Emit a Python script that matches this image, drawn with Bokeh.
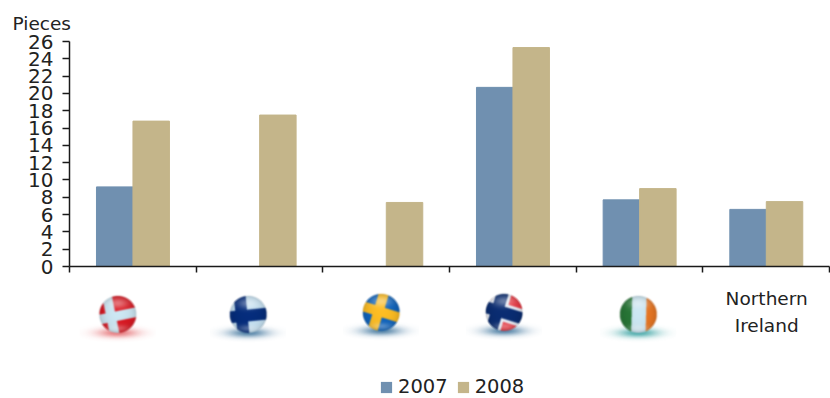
from bokeh.core.properties import value
from bokeh.embed import file_html
from bokeh.resources import INLINE
from bokeh.layouts import column
from bokeh.models import FixedTicker, Legend, LegendItem, Range1d, Title
from bokeh.plotting import figure
import numpy as np

FONT = "DejaVu Sans"
TEXT_COLOR = "#222222"
INK = "#1a1a1a"

countries = ["Denmark", "Finland", "Sweden", "Norway", "Ireland", "Northern Ireland"]
pieces_2007 = [9.2, None, None, 20.7, 7.7, 6.6]
pieces_2008 = [16.8, 17.5, 7.4, 25.3, 9.0, 7.5]
y_ticks = list(range(0, 28, 2))
series_labels = ["2007", "2008"]
series_colors = ["#7090B0", "#C4B58A"]

# Where each national badge sits along the category axis
badge_x = [0.38, 1.41, 2.46, 3.43, 4.49]
badge_y = [84, 84, 86, 86, 84]

BAR_W = 0.288
GROUP_GAP = 0.213
STRIP_H = 113

p = figure(width=830, height=398 - STRIP_H, x_range=Range1d(0, 6), y_range=Range1d(0, 26),
           output_backend="svg", toolbar_location=None,
           min_border_left=69, min_border_right=1, min_border_top=41, min_border_bottom=19)
p.outline_line_color = None
p.grid.visible = False
p.background_fill_color = "white"
p.border_fill_color = "white"

p.title = Title(text="Pieces", align="left", offset=-57, standoff=16, text_font=FONT,
                text_font_size="18.5px", text_font_style="normal", text_color=TEXT_COLOR,
                text_line_height=1.0)

xs_07 = [i + GROUP_GAP + BAR_W / 2 for i, v in enumerate(pieces_2007) if v is not None]
tops_07 = [v for v in pieces_2007 if v is not None]
xs_08 = [i + GROUP_GAP + BAR_W * 1.5 for i in range(len(pieces_2008))]
p.vbar(x=xs_07, top=tops_07, width=BAR_W, color=series_colors[0])
p.vbar(x=xs_08, top=pieces_2008, width=BAR_W, color=series_colors[1])

# The category boundaries carry ticks only, so they go on the unlabelled minor ticks
xa = p.xaxis[0]
xa.ticker = FixedTicker(ticks=[], minor_ticks=list(range(7)))
xa.axis_line_color = INK
xa.axis_line_width = 1.5
xa.minor_tick_line_color = INK
xa.minor_tick_line_width = 1.5
xa.minor_tick_in = 0
xa.minor_tick_out = 6

ya = p.yaxis[0]
ya.ticker = FixedTicker(ticks=y_ticks)
ya.axis_line_color = INK
ya.axis_line_width = 1.5
ya.major_tick_line_color = INK
ya.major_tick_line_width = 1.5
ya.major_tick_in = 0
ya.major_tick_out = 7
ya.minor_tick_out = 0
ya.minor_tick_in = 0
ya.major_label_standoff = 9
ya.major_label_text_font = FONT
ya.major_label_text_font_size = "20px"
ya.major_label_text_color = TEXT_COLOR

# Lower strip: badges, the one text category and the legend
strip = figure(width=830, height=STRIP_H, x_range=p.x_range, y_range=Range1d(0, STRIP_H),
               output_backend="svg", toolbar_location=None,
               min_border_left=69, min_border_right=1, min_border_top=0, min_border_bottom=0,
               x_axis_location=None, y_axis_location=None)
strip.outline_line_color = None
strip.grid.visible = False
strip.border_fill_color = "white"


def blur(a, n=2):
    for _ in range(n):
        a = (a + np.roll(a, 1, 0) + np.roll(a, -1, 0) + np.roll(a, 1, 1) + np.roll(a, -1, 1)) / 5
    return a


def cross(u, v, cx, cy, half):
    return (np.abs(u - cx) < half) | (np.abs(v - cy) < half)


def badge(kind, shadow, size=(76, 64), radius=18.5):
    ss = 4
    w, h = size[0] * ss, size[1] * ss
    yy, xx = np.mgrid[0:h, 0:w]
    cx, cy = w / 2, h * 0.60
    r = radius * ss
    nx = (xx - cx) / r
    ny = (yy - cy) / r  # image rows run upward on this scale
    d = nx ** 2 + ny ** 2
    inside = d < 1
    nz = np.sqrt(np.clip(1 - d, 0, 1))
    ang = {"dk": -0.2, "fi": -0.1, "se": 0.3, "no": 0.3, "ie": 0.03}[kind]
    u = nx * np.cos(ang) - ny * np.sin(ang)
    v = nx * np.sin(ang) + ny * np.cos(ang)

    rgb = np.zeros((h, w, 3), float)
    pale = np.array([205, 232, 244.0])
    if kind == "dk":
        rgb[:] = [220, 25, 35]
        rgb[cross(u, v, -0.38, -0.08, 0.26)] = pale
    elif kind == "fi":
        rgb[:] = [200, 228, 245]
        rgb[cross(u, v, -0.36, -0.06, 0.32)] = [5, 45, 125]
    elif kind == "se":
        rgb[:] = [15, 100, 190]
        rgb[cross(u, v, -0.16, 0.02, 0.27)] = [255, 190, 35]
    elif kind == "no":
        rgb[:] = [235, 55, 65]
        rgb[cross(u, v, -0.38, -0.02, 0.48)] = [235, 240, 248]
        rgb[cross(u, v, -0.38, -0.02, 0.32)] = [10, 45, 115]
    else:
        rgb[:] = pale
        rgb[u < -0.36] = [40, 120, 55]
        rgb[u > 0.42] = [235, 120, 35]

    # Glass shading: darker rim, glossy cap on top, soft glow near the bottom
    shade = 0.68 + 0.32 * nz ** 0.5
    rgb *= shade[..., None]
    cap = np.exp(-((nx / 0.55) ** 2 + ((ny - 0.6) / 0.28) ** 2)) * 0.4
    glow = np.exp(-((nx / 0.55) ** 2 + ((ny + 0.75) / 0.18) ** 2)) * 0.3
    gloss = np.clip(cap + glow, 0, 1)[..., None]
    rgb = rgb * (1 - gloss) + 255 * gloss

    alpha = inside.astype(float)
    sh_d = (nx / 1.35) ** 2 + ((ny + 1.0) / 0.30) ** 2
    sh = np.clip(np.exp(-sh_d * 1.6) * 0.8, 0, 1) * (1 - alpha)
    out_rgb = rgb * alpha[..., None] + np.array(shadow, float) * sh[..., None]
    out_a = alpha + sh
    safe = np.maximum(out_a, 1e-4)[..., None]
    out_rgb = out_rgb / safe

    pre = np.dstack([out_rgb * out_a[..., None], out_a])
    pre = blur(pre, 3)
    pre = pre[: h - h % ss, : w - w % ss].reshape(h // ss, ss, w // ss, ss, 4).mean(axis=(1, 3))
    pre = blur(pre, 1)
    a = pre[..., 3]
    col = pre[..., :3] / np.maximum(a, 1e-4)[..., None]
    img = np.zeros(a.shape, dtype=np.uint32)
    view = img.view(np.uint8).reshape(a.shape + (4,))
    view[..., :3] = np.clip(col, 0, 255).astype(np.uint8)
    view[..., 3] = np.clip(a * 255, 0, 255).astype(np.uint8)
    return img


kinds = ["dk", "fi", "se", "no", "ie"]
shadows = [(225, 90, 95), (40, 100, 145), (40, 100, 145), (40, 100, 145), (30, 150, 150)]
px_per_x = 760 / 6
for kind, sh, bx, by in zip(kinds, shadows, badge_x, badge_y):
    img = badge(kind, sh)
    h, w = img.shape
    strip.image_rgba(image=[img], x=bx - (w / 2) / px_per_x, y=by - h * 0.6,
                     dw=w / px_per_x, dh=h)

strip.text(x=[5.504, 5.504], y=[100, 73], text=["Northern", "Ireland"],
           text_font=value(FONT), text_font_size="18.5px", text_color=TEXT_COLOR,
           text_align="center", text_baseline="middle")

# Legend keys only need a renderer for their colour; its one bar has no area
swatches = [strip.vbar(x=[0], bottom=[0], top=[0], width=0, fill_color=c, line_color=None)
            for c in series_colors]
legend = Legend(items=[LegendItem(label=lab, renderers=[r]) for lab, r in zip(series_labels, swatches)],
                orientation="horizontal", location=(310, 0),
                background_fill_alpha=0, border_line_alpha=0, margin=0, padding=0,
                glyph_width=14, glyph_height=14, label_standoff=5, spacing=8,
                label_text_font=FONT, label_text_font_size="19.5px", label_text_color=TEXT_COLOR)
strip.add_layout(legend)

page = column(p, strip, spacing=0)
open("out.html", "w").write(file_html(page, INLINE))
